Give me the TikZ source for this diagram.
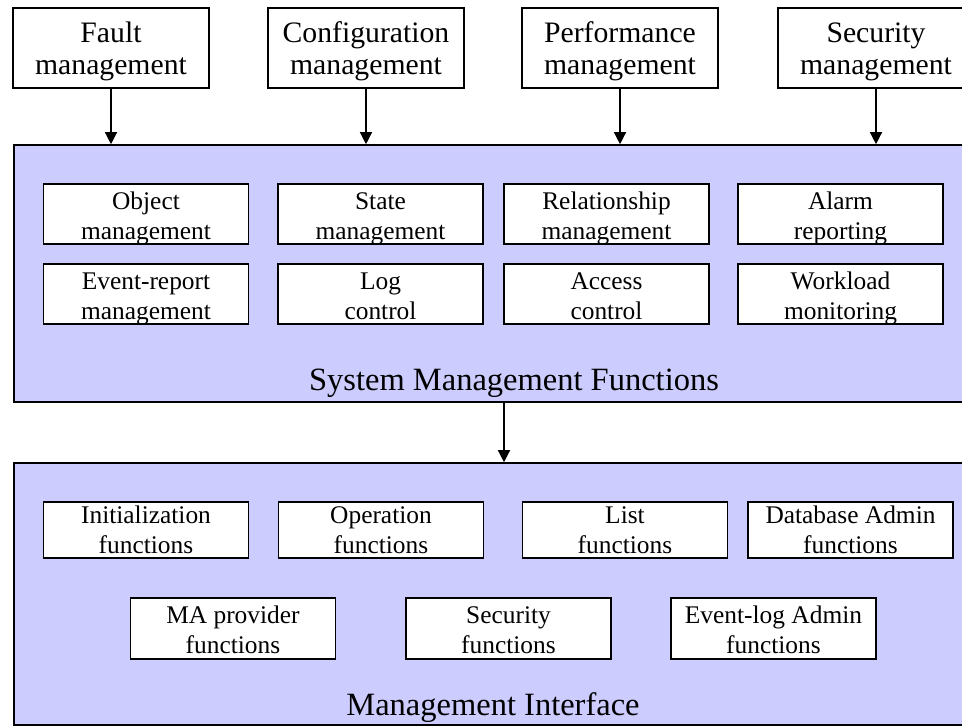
\documentclass[tikz,border=0pt]{standalone}
\usepackage{fontspec}
\setmainfont{Liberation Serif}
\usetikzlibrary{arrows.meta}
\definecolor{panelblue}{RGB}{204,204,255}
\tikzset{
  mgmt/.style={draw, fill=white, line width=1.6pt, text width=196pt, align=flush center,
    inner sep=0pt, text height=34pt, text depth=46pt,
    font=\fontsize{29.7}{32}\selectfont},
  fnbox/.style={draw, fill=white, line width=1.6pt, text width=205pt, align=flush center,
    inner sep=0pt, font=\fontsize{25.4}{30}\selectfont},
  panel/.style={draw, fill=panelblue, line width=1.6pt, inner sep=0pt},
  paneltitle/.style={anchor=base, inner sep=0pt, font=\fontsize{32.5}{36}\selectfont},
  arr/.style={-{Triangle[length=12pt,width=12pt]}, line width=1.3pt}
}
\begin{document}
\begin{tikzpicture}[x=1pt,y=-1pt]
  \useasboundingbox (0,0) rectangle (962,726);

  % top row
  \node[mgmt] (fault) at (111,48) {Fault\\management};
  \node[mgmt, right of=fault, node distance=255pt] (config) {Configuration\\management};
  \node[mgmt, right of=config, node distance=254pt] (perf) {Performance\\management};
  \node[mgmt, right of=perf, node distance=256pt] (secm) {Security\\management};

  % system management functions
  \node[panel, minimum width=960pt, minimum height=257pt] (smf) at (494,273.5) {};
  \node[fnbox, text height=25pt, text depth=35pt] (obj) at (146,214) {Object\\management};
  \node[fnbox, text height=25pt, text depth=35pt] (state) at (380.5,214) {State\\management};
  \node[fnbox, text height=25pt, text depth=35pt] (rel) at (606.5,214) {Relationship\\management};
  \node[fnbox, text height=25pt, text depth=35pt] (alarm) at (840.5,214) {Alarm\\reporting};
  \node[fnbox, text height=25pt, text depth=35pt, below of=obj, node distance=80pt] (evrep) {Event-report\\management};
  \node[fnbox, text height=25pt, text depth=35pt, below of=state, node distance=80pt] (logc) {Log\\control};
  \node[fnbox, text height=25pt, text depth=35pt, below of=rel, node distance=80pt] (acc) {Access\\control};
  \node[fnbox, text height=25pt, text depth=35pt, below of=alarm, node distance=80pt] (work) {Workload\\monitoring};
  \node[paneltitle] (smftitle) at (514,390) {System Management Functions};

  % management interface
  \node[panel, minimum width=960pt, minimum height=262pt] (mi) at (494,594) {};
  \node[fnbox, text height=21pt, text depth=35pt] (init) at (146,530) {Initialization\\functions};
  \node[fnbox, text height=21pt, text depth=35pt] (oper) at (381,530) {Operation\\functions};
  \node[fnbox, text height=21pt, text depth=35pt] (list) at (625,530) {List\\functions};
  \node[fnbox, text height=21pt, text depth=35pt] (dbadm) at (850.5,530) {Database Admin\\functions};
  \node[fnbox, text height=25pt, text depth=36pt] (maprov) at (233,628.5) {MA provider\\functions};
  \node[fnbox, text height=25pt, text depth=36pt] (secf) at (508.5,628.5) {Security\\functions};
  \node[fnbox, text height=25pt, text depth=36pt] (evlog) at (773.5,628.5) {Event-log Admin\\functions};
  \node[paneltitle] (mititle) at (493,715) {Management Interface};

  \draw[arr] (fault) -- (fault |- smf.north);
  \draw[arr] (config) -- (config |- smf.north);
  \draw[arr] (perf) -- (perf |- smf.north);
  \draw[arr] (secm) -- (secm |- smf.north);
  \draw[arr] (smf.south -| 504,0) -- (mi.north -| 504,0);
\end{tikzpicture}
\end{document}
